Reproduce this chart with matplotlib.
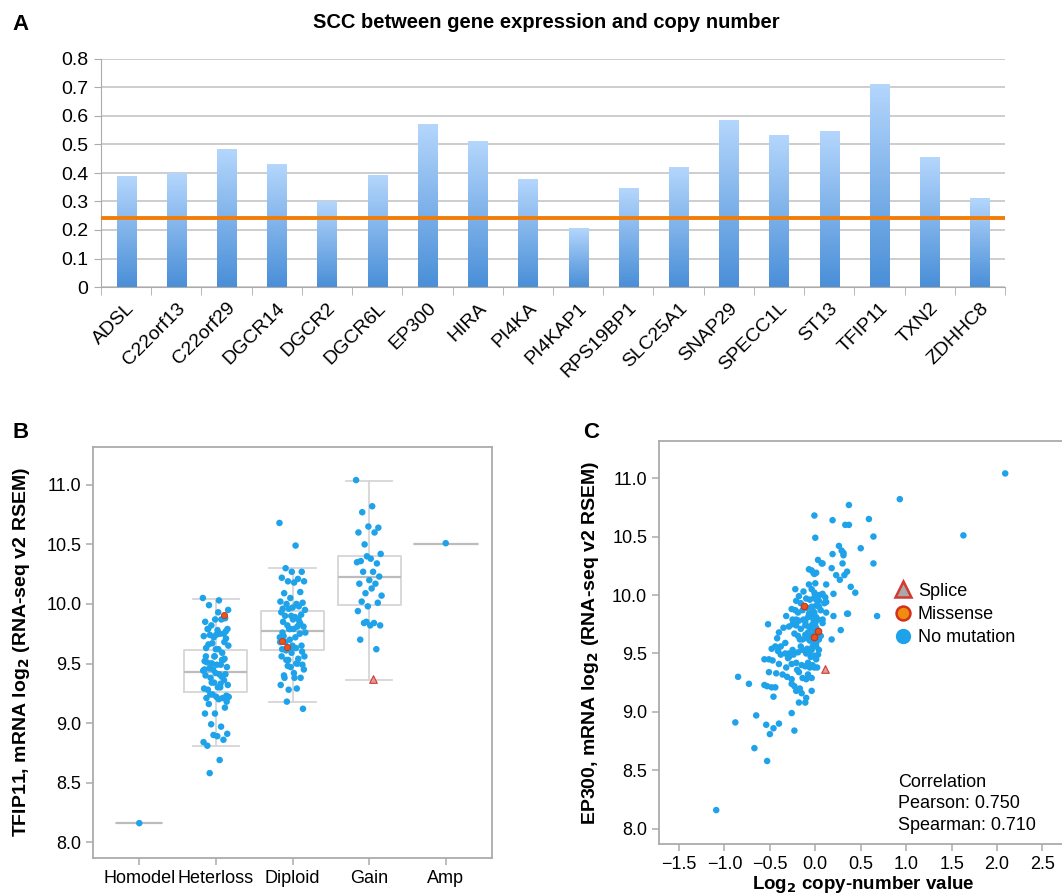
import numpy as np
import matplotlib
matplotlib.use('Agg')
import matplotlib.pyplot as plt
from matplotlib.colors import LinearSegmentedColormap
from matplotlib.lines import Line2D

plt.rcParams['font.family'] = ['Liberation Sans', 'DejaVu Sans']
narrow = ['Liberation Sans Narrow', 'Liberation Sans', 'DejaVu Sans']

# ---- panel A data: SCC between expression and copy number
genes = ['ADSL', 'C22orf13', 'C22orf29', 'DGCR14', 'DGCR2', 'DGCR6L', 'EP300', 'HIRA',
         'PI4KA', 'PI4KAP1', 'RPS19BP1', 'SLC25A1', 'SNAP29', 'SPECC1L', 'ST13', 'TFIP11',
         'TXN2', 'ZDHHC8']
scc = [0.389, 0.400, 0.483, 0.431, 0.299, 0.391, 0.570, 0.509, 0.378, 0.206, 0.347,
       0.418, 0.585, 0.531, 0.544, 0.709, 0.455, 0.309]
scc_threshold = 0.243

# ---- panel C data: log2 copy number vs mRNA (no mutation)
cn_log2 = [2.09, 0.93, 0.37, -0.01, 0.19, 0.59, 0.33, 0.37, 0.64, 1.63, 0.00, 0.26, 0.29, 0.31,
           0.31, 0.50, 0.19, 0.03, 0.08, 0.07, 0.30, 0.64, 0.18, -0.07, -0.04, -0.02, 0.01,
           -0.01, 0.35, 0.23, 0.32, -0.07, 0.00, 0.12, 0.39, 0.27, -0.22, -0.13, -0.04, -0.01,
           0.01, 0.05, 0.08, 0.44, 0.20, -0.18, -0.10, -0.06, -0.01, 0.01, 0.04, 0.11, -0.26,
           -0.22, -0.19, -0.14, -0.09, -0.04, 0.01, 0.04, 0.10, 0.12, 0.35, 0.36, 0.68, 0.20,
           -0.32, -0.21, -0.18, -0.13, -0.08, -0.04, 0.01, 0.08, -0.52, -0.35, -0.29, -0.25,
           -0.21, -0.16, -0.11, -0.07, -0.03, -0.01, 0.01, 0.28, 0.18, -0.42, -0.33, -0.23,
           -0.19, -0.17, -0.11, -0.09, -0.06, -0.02, 0.01, 0.04, -0.48, -0.44, -0.41, -0.38,
           -0.33, -0.29, -0.24, -0.19, -0.14, -0.09, -0.04, 0.01, -0.51, -0.47, -0.40, -0.30,
           -0.26, -0.21, -0.15, -0.11, -0.06, -0.01, 0.02, -0.05, -0.51, -0.36, -0.31, -0.26,
           -0.20, -0.18, -0.08, -0.14, -0.04, -0.85, -0.73, -0.56, -0.53, -0.48, -0.44, -0.26,
           -0.23, -0.17, -0.15, -0.04, -0.46, -0.18, -0.10, -0.11, -0.65, -0.26, -0.88, -0.54,
           -0.50, -0.46, -0.40, -0.23, -0.67, -0.53, -1.09,
           -0.03, -0.01, -0.06, -0.02, 0.00, -0.05, -0.01, -0.04, 0.01, -0.03, -0.07, -0.01,
           0.01, -0.08, -0.03, -0.07, 0.03, -0.11, -0.08, -0.14, -0.16, -0.10, -0.25, -0.29,
           0.04, 0.03, 0.06, 0.08, 0.12, 0.06, -0.21, -0.16, -0.25, -0.40, -0.38, -0.56, -0.43,
           -0.32, -0.10, -0.21]
mrna = [11.04, 10.82, 10.77, 10.68, 10.64, 10.65, 10.60, 10.60, 10.50, 10.51, 10.49, 10.42,
        10.38, 10.36, 10.34, 10.40, 10.35, 10.30, 10.27, 10.27, 10.27, 10.27, 10.23, 10.22,
        10.21, 10.19, 10.19, 10.18, 10.20, 10.17, 10.17, 10.09, 10.10, 10.09, 10.07, 10.13,
        10.05, 10.03, 10.05, 10.02, 10.00, 10.00, 10.01, 10.02, 10.01, 9.99, 9.97, 9.96, 9.98,
        9.96, 9.95, 9.98, 9.88, 9.87, 9.85, 9.87, 9.89, 9.90, 9.91, 9.90, 9.93, 9.94, 9.84,
        9.84, 9.82, 9.82, 9.82, 9.79, 9.78, 9.79, 9.81, 9.82, 9.81, 9.79, 9.75, 9.72, 9.73,
        9.75, 9.74, 9.71, 9.74, 9.73, 9.75, 9.70, 9.72, 9.70, 9.62, 9.63, 9.59, 9.67, 9.65,
        9.62, 9.66, 9.63, 9.61, 9.60, 9.63, 9.62, 9.54, 9.56, 9.52, 9.49, 9.50, 9.47, 9.49,
        9.51, 9.53, 9.54, 9.53, 9.56, 9.45, 9.44, 9.41, 9.46, 9.41, 9.42, 9.40, 9.39, 9.38,
        9.38, 9.38, 9.47, 9.34, 9.32, 9.30, 9.28, 9.36, 9.34, 9.32, 9.29, 9.29, 9.30, 9.24,
        9.23, 9.22, 9.21, 9.21, 9.24, 9.22, 9.20, 9.16, 9.18, 9.13, 9.08, 9.12, 9.08, 8.97,
        8.99, 8.91, 8.89, 8.81, 8.86, 8.90, 8.84, 8.69, 8.58, 8.16,
        9.87, 9.85, 9.83, 9.79, 9.76, 9.72, 9.68, 9.65, 9.59, 9.56, 9.50, 9.48, 9.45, 9.42,
        9.40, 9.84, 9.79, 9.77, 9.68, 9.62, 9.56, 9.50, 9.53, 9.50, 9.53, 9.49, 9.65, 9.76,
        9.85, 9.87, 9.95, 9.93, 9.79, 9.68, 9.56, 9.45, 9.33, 9.38, 9.28, 9.18]
missense_cn = [-0.12, 0.03, -0.01]
missense_mrna = [9.91, 9.69, 9.64]
splice_cn = [0.11]
splice_mrna = [9.37]

# ---- panel B data: copy-number calls and box summaries
cna_calls = ['Homodel', 'Heterloss', 'Diploid', 'Gain', 'Amp']
box_q1 = [8.16, 9.26, 9.61, 9.99, 10.50]
box_med = [8.16, 9.43, 9.77, 10.23, 10.50]
box_q3 = [8.16, 9.61, 9.94, 10.40, 10.50]
box_lo = [8.16, 8.81, 9.18, 9.36, 10.50]
box_hi = [8.16, 10.04, 10.30, 11.03, 10.50]

blue = '#1ea2ea'
miss_face, miss_edge = '#f08c10', '#d4301c'
spl_face, spl_edge = '#a9a9a9', '#d23a32'
frame = '#ababab'


def call_of(x):
    if x < -1.0:
        return 0
    if x < -0.105:
        return 1
    if x <= 0.105:
        return 2
    if np.isclose(x, 1.63):
        return 4
    return 3


def jitter(n):
    # deterministic spread inside a category column
    return ((np.arange(n) * 0.618034) % 1 - 0.5) * 0.34


fig = plt.figure(figsize=(10.62, 8.94), dpi=100)
W, H = 1062, 894

# ================= A =================
axA = fig.add_axes([101 / W, 1 - 287 / H, (1005 - 101) / W, (287 - 59) / H])
pos = np.arange(len(genes))
bar_cmap = LinearSegmentedColormap.from_list('bar', ['#b4d6fc', '#4a8fd8'])
grad = np.linspace(0, 1, 100).reshape(-1, 1)
for p, v in zip(pos, scc):
    axA.imshow(grad, extent=(p - 0.19, p + 0.19, 0, v), aspect='auto', cmap=bar_cmap,
               zorder=2, interpolation='bilinear')
axA.axhline(scc_threshold, color='#f07d0a', lw=2.8, zorder=3)
axA.set_xlim(-0.5, len(genes) - 0.5)
axA.set_ylim(0, 0.8)
axA.set_yticks(np.arange(0, 0.81, 0.1))
axA.set_yticklabels(['0'] + [f'{v:.1f}' for v in np.arange(0.1, 0.81, 0.1)],
                    fontfamily=narrow, fontsize=14)
axA.yaxis.grid(True, color='#c0c0c0', lw=1.1)
axA.set_axisbelow(True)
axA.set_xticks(pos)
axA.set_xticklabels(genes, rotation=45, ha='right', va='top', rotation_mode='anchor',
                    fontfamily=narrow, fontsize=14)
axA.set_xticks(np.arange(-0.5, len(genes)), minor=True)
axA.tick_params(axis='x', which='major', length=0, pad=9)
axA.tick_params(axis='x', which='minor', length=6, color=frame)
axA.tick_params(axis='y', length=5, color=frame, pad=4)
for s in ['top', 'right']:
    axA.spines[s].set_visible(False)
for s in ['left', 'bottom']:
    axA.spines[s].set_color(frame)
fig.text(546 / W, 1 - 22 / H, 'SCC between gene expression and copy number', ha='center',
         va='center', fontsize=14.5, fontweight='bold', fontfamily=narrow)

# ================= B =================
axB = fig.add_axes([93.3 / W, 1 - 857.7 / H, (491.7 - 93.3) / W, (857.7 - 446.7) / H])
stats = [dict(med=m, q1=a, q3=b, whislo=lo, whishi=hi, fliers=[])
         for m, a, b, lo, hi in zip(box_med, box_q1, box_q3, box_lo, box_hi)]
lc = '#d6d6d6'
axB.bxp(stats, positions=range(5), widths=[0.6, 0.82, 0.82, 0.82, 0.83],
        capwidths=[0.0, 0.61, 0.61, 0.61, 0.0], showfliers=False, manage_ticks=False,
        boxprops=dict(color=lc, lw=1.3), whiskerprops=dict(color=lc, lw=1.3),
        capprops=dict(color=lc, lw=1.3), medianprops=dict(color='#bcbcbc', lw=1.6))

mr_arr = np.array(mrna)
calls = np.array([call_of(v) for v in cn_log2])
for k in range(5):
    ys = mr_arr[calls == k]
    xs = k + (jitter(len(ys)) if len(ys) > 2 else np.zeros(len(ys)))
    axB.scatter(xs, ys, s=22, color=blue, edgecolor='none', zorder=3)
for xv, yv in zip(missense_cn, missense_mrna):
    k = call_of(xv)
    axB.scatter(k + (0.1 if yv > 9.8 else -0.14 + 0.07 * (yv < 9.66)), yv, s=20,
                color='#e8541c', edgecolor='#c8321a', lw=0.6, zorder=4)
for xv, yv in zip(splice_cn, splice_mrna):
    axB.scatter(call_of(xv) + 0.05, yv, s=30, marker='^', color='#e09a9a',
                edgecolor=spl_edge, lw=0.8, zorder=4)

axB.set_xlim(-0.6, 4.6)
axB.set_ylim(7.87, 11.32)
axB.set_xticks(range(5))
axB.set_xticklabels(cna_calls, fontsize=13)
axB.set_yticks(np.arange(8.0, 11.01, 0.5))
axB.set_yticklabels([f'{v:.1f}' for v in np.arange(8.0, 11.01, 0.5)], fontsize=13)
axB.tick_params(length=5, color=frame, width=1.1)
for s in axB.spines.values():
    s.set_color(frame)
    s.set_linewidth(1.3)
axB.set_ylabel('TFIP11, mRNA log$_\\mathbf{2}$ (RNA-seq v2 RSEM)', fontsize=14,
               fontweight='bold', labelpad=10)

# ================= C =================
axC = fig.add_axes([659 / W, 1 - 844 / H, 408 / W, (844 - 440.7) / H])
axC.scatter(cn_log2, mrna, s=22, color=blue, edgecolor='none', zorder=3)
axC.scatter(missense_cn, missense_mrna, s=22, color='#e8541c', edgecolor='#c8321a',
            lw=0.8, zorder=4)
axC.scatter(splice_cn, splice_mrna, s=30, marker='^', color='#e09a9a',
            edgecolor=spl_edge, lw=0.8, zorder=4)
axC.set_xlim(-1.72, 2.77)
axC.set_ylim(7.87, 11.32)
xt = np.arange(-1.5, 2.51, 0.5)
axC.set_xticks(xt)
axC.set_xticklabels([f'{v:.1f}'.replace('-', '\u2212') for v in xt], fontsize=13)
axC.set_yticks(np.arange(8.0, 11.01, 0.5))
axC.set_yticklabels([f'{v:.1f}' for v in np.arange(8.0, 11.01, 0.5)], fontsize=13)
axC.tick_params(length=5, color=frame, width=1.1)
for s in axC.spines.values():
    s.set_color(frame)
    s.set_linewidth(1.3)
axC.set_ylabel('EP300, mRNA log$_\\mathbf{2}$ (RNA-seq v2 RSEM)', fontsize=14,
               fontweight='bold', labelpad=8)
axC.set_xlabel('Log$_\\mathbf{2}$ copy-number value', fontsize=13.5, fontweight='bold',
               labelpad=1)

handles = [
    Line2D([], [], ls='none', marker='^', ms=11, mfc=spl_face, mec=spl_edge, mew=1.8),
    Line2D([], [], ls='none', marker='o', ms=10, mfc=miss_face, mec=miss_edge, mew=1.8),
    Line2D([], [], ls='none', marker='o', ms=10, mfc=blue, mec=blue),
]
axC.legend(handles, ['Splice', 'Missense', 'No mutation'], loc='upper left',
           bbox_to_anchor=(0.555, 0.67), frameon=False, fontsize=13, handlelength=1.0,
           handletextpad=0.3, labelspacing=0.35, borderpad=0)
axC.text(0.585, 0.025, 'Correlation\nPearson: 0.750\nSpearman: 0.710', transform=axC.transAxes,
         ha='left', va='bottom', fontsize=13, linespacing=1.35)

# panel letters
fig.text(12 / W, 1 - 25 / H, 'A', fontsize=16, fontweight='bold', va='center')
fig.text(12 / W, 1 - 432 / H, 'B', fontsize=16, fontweight='bold', va='center')
fig.text(583 / W, 1 - 433 / H, 'C', fontsize=16, fontweight='bold', va='center')

fig.savefig('out.png', dpi=100)
